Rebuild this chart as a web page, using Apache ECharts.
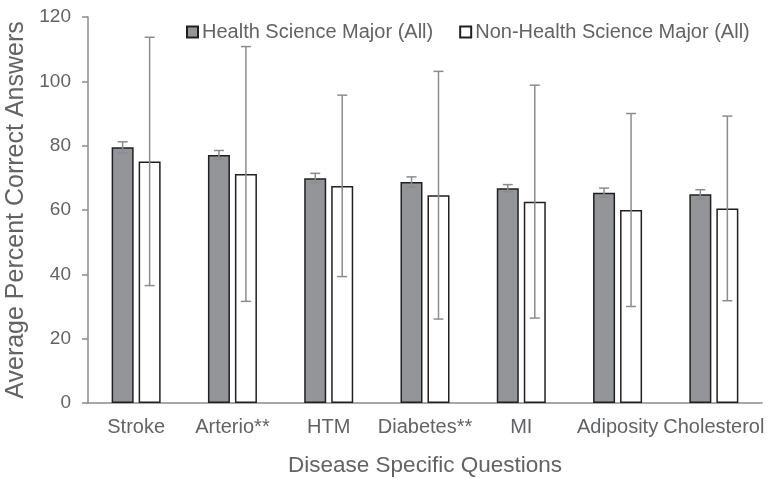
<!DOCTYPE html>
<html>
<head>
<meta charset="utf-8">
<script src="https://cdn.jsdelivr.net/npm/echarts@6/dist/echarts.min.js"></script>
<style>
  html, body { margin: 0; padding: 0; background: #fff; }
  #chart { width: 769px; height: 478px; }
</style>
</head>
<body>
<div id="chart"></div>
<script>
// Disease-specific question categories
const categories = ['Stroke', 'Arterio**', 'HTM', 'Diabetes**', 'MI', 'Adiposity', 'Cholesterol'];

// Mean percent correct and error (±) per group
const healthMeans = [79.5, 77.1, 69.9, 68.7, 66.8, 65.4, 64.9];
const healthErr   = [1.7, 1.4, 1.5, 1.6, 1.1, 1.4, 1.4];
const nonHealthMeans = [75.1, 71.2, 67.5, 64.6, 62.6, 60.0, 60.5];
const nonHealthErr   = [38.6, 39.6, 28.2, 38.5, 36.2, 30.0, 28.7];

const yTicks = [0, 20, 40, 60, 80, 100, 120];

const seriesNames = ['Health Science Major (All)', 'Non-Health Science Major (All)'];

const FONT = 'Liberation Sans, Arial, Helvetica, sans-serif';
const TEXT = '#626366';
const AXIS = '#8c8c8c';
const BAR_W = 22;
const BAR_GAP_PX = 5;

function errorSeries(means, errs, side) {
  const data = means.map((m, i) => [i, m - errs[i], m + errs[i]]);
  return {
    type: 'custom',
    z: 10,
    silent: true,
    data: data,
    renderItem: function (params, api) {
      const idx = api.value(0);
      const lo = api.coord([idx, api.value(1)]);
      const hi = api.coord([idx, api.value(2)]);
      const x = lo[0] + side * (BAR_W + BAR_GAP_PX) / 2;
      const cap = 5;
      const style = { stroke: AXIS, lineWidth: 1.5, fill: null };
      return {
        type: 'group',
        children: [
          { type: 'line', shape: { x1: x, y1: lo[1], x2: x, y2: hi[1] }, style: style },
          { type: 'line', shape: { x1: x - cap, y1: hi[1], x2: x + cap, y2: hi[1] }, style: style },
          { type: 'line', shape: { x1: x - cap, y1: lo[1], x2: x + cap, y2: lo[1] }, style: style }
        ]
      };
    }
  };
}

const chart = echarts.init(document.getElementById('chart'), null, { renderer: 'canvas' });

chart.setOption({
  animation: false,
  textStyle: { fontFamily: FONT },
  grid: { left: 88, right: 7, top: 17, bottom: 75, containLabel: false, outerBoundsMode: 'none' },
  legend: {
    top: 17,
    left: 181,
    itemWidth: 11,
    itemHeight: 11,
    itemGap: 26,
    icon: 'rect',
    data: seriesNames,
    textStyle: { color: TEXT, fontSize: 20, fontFamily: FONT, padding: [0, 0, 0, -1] }
  },
  xAxis: {
    type: 'category',
    data: categories,
    name: 'Disease Specific Questions',
    nameLocation: 'middle',
    nameGap: 51,
    nameTextStyle: { color: TEXT, fontSize: 22.5, fontFamily: FONT },
    axisLine: { show: true, lineStyle: { color: AXIS, width: 1.5 } },
    axisTick: { show: false },
    axisLabel: { color: TEXT, fontSize: 20, fontFamily: FONT, margin: 14, interval: 0 }
  },
  yAxis: {
    type: 'value',
    min: yTicks[0],
    max: yTicks[yTicks.length - 1],
    interval: yTicks[1] - yTicks[0],
    name: 'Average Percent Correct Answers',
    nameLocation: 'middle',
    nameGap: 56,
    nameTextStyle: { color: TEXT, fontSize: 25, fontFamily: FONT },
    axisLine: { show: true, lineStyle: { color: AXIS, width: 1.5 } },
    axisTick: { show: true, inside: false, length: 6, lineStyle: { color: AXIS, width: 1.5 } },
    splitLine: { show: false },
    axisLabel: { color: TEXT, fontSize: 19, fontFamily: FONT, margin: 17 }
  },
  series: [
    {
      name: seriesNames[0],
      type: 'bar',
      data: healthMeans,
      barWidth: BAR_W,
      barGap: (BAR_GAP_PX / BAR_W * 100) + '%',
      itemStyle: { color: '#939598', borderColor: '#231f20', borderWidth: 1.5 }
    },
    {
      name: seriesNames[1],
      type: 'bar',
      data: nonHealthMeans,
      barWidth: BAR_W,
      itemStyle: { color: '#ffffff', borderColor: '#231f20', borderWidth: 1.5 }
    },
    errorSeries(healthMeans, healthErr, -1),
    errorSeries(nonHealthMeans, nonHealthErr, 1)
  ]
});
</script>
</body>
</html>
